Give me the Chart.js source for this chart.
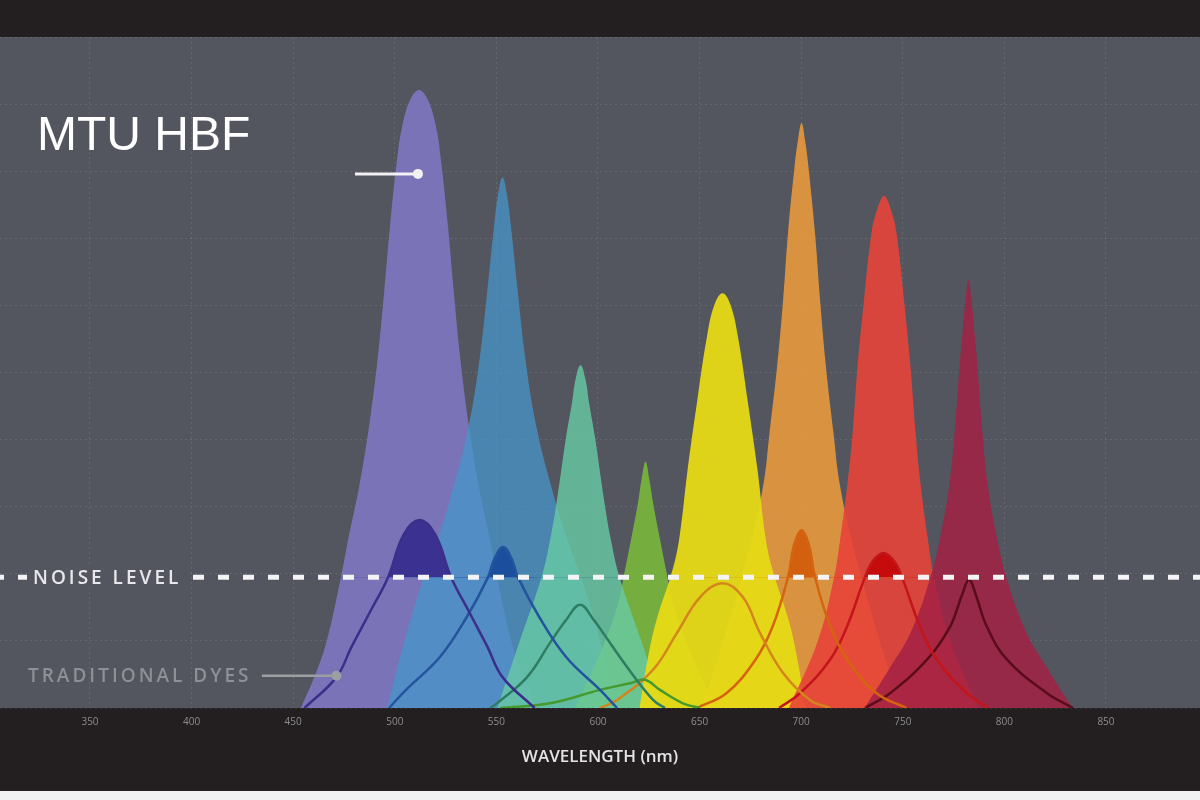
<!DOCTYPE html>
<html>
<head>
<meta charset="utf-8">
<title>MTU HBF vs traditional dyes</title>
<script src="https://cdn.jsdelivr.net/npm/chart.js@4.4.1/dist/chart.umd.min.js"></script>
<style>
  html, body { margin: 0; padding: 0; background: #231f20; }
  #wrap { width: 1200px; height: 800px; }
</style>
</head>
<body>
<div id="wrap"><canvas id="chart" width="1200" height="800"></canvas></div>
<script>
// values: wavelength (nm) and signal (0-100)
const xTicks = [350, 400, 450, 500, 550, 600, 650, 700, 750, 800, 850];
const noiseLevel = 19.5;

// MTU HBF dyes (tall filled peaks)
const purpleNm = [453.8, 461.2, 466.6, 473.5, 477.0, 482.4, 487.3, 491.5, 494.7, 497.6, 501.1, 503.6, 507.5, 511.9, 516.3, 520.3, 522.7, 526.2, 529.1, 532.3, 536.5, 541.4, 546.9, 550.3, 557.2, 562.6, 570.0];
const purpleHbf = [0, 5.2, 10.1, 19.5, 25.0, 32.9, 41.9, 51.9, 61.8, 71.7, 81.7, 86.6, 90.6, 92.1, 90.6, 86.6, 81.7, 71.7, 61.8, 51.9, 41.9, 32.9, 25.0, 19.5, 10.1, 5.2, 0];

const blueNm = [496.2, 504.0, 513.9, 521.0, 528.9, 536.3, 541.7, 545.4, 548.8, 550.8, 553.0, 555.2, 557.2, 560.6, 564.3, 569.7, 577.1, 585.0, 592.1, 602.0, 609.9];
const blueHbf = [0, 9.1, 19.1, 25.0, 32.9, 41.9, 51.9, 61.8, 71.7, 76.5, 79.1, 76.5, 71.7, 61.8, 51.9, 41.9, 32.9, 25.0, 19.1, 9.1, 0];

const tealNm = [550.5, 561.6, 572.2, 576.4, 579.6, 584.3, 587.2, 588.9, 591.4, 593.9, 595.6, 598.5, 603.2, 606.4, 610.6, 621.2, 632.2];
const tealHbf = [0, 10.1, 19.5, 25.0, 30.6, 40.4, 45.5, 48.9, 51.1, 48.9, 45.5, 40.4, 30.6, 25.0, 19.5, 10.1, 0];

const greenNm = [588.9, 596.3, 603.7, 609.9, 613.3, 616.5, 619.7, 621.4, 623.4, 625.3, 627.1, 630.3, 633.5, 636.9, 643.1, 650.5, 657.8];
const greenHbf = [0, 4.9, 10.1, 15.6, 20.6, 25.5, 30.6, 34.0, 36.7, 34.0, 30.6, 25.5, 20.6, 15.6, 10.1, 4.9, 0];

const yellowNm = [620.4, 624.4, 628.8, 636.7, 640.1, 644.1, 648.7, 653.6, 657.3, 661.3, 665.2, 668.9, 673.8, 678.5, 682.4, 685.9, 693.8, 698.2, 702.1];
const yellowHbf = [0, 7.2, 13.1, 20.6, 25.5, 35.5, 45.5, 55.3, 60.1, 61.8, 60.1, 55.3, 45.5, 35.5, 25.5, 20.6, 13.1, 7.2, 0];

const orangeNm = [650.9, 661.8, 670.6, 675.5, 681.5, 684.4, 688.1, 691.1, 693.5, 696.7, 698.4, 700.2, 701.9, 703.6, 706.8, 709.3, 712.2, 715.9, 718.9, 724.8, 729.7, 738.5, 749.4];
const orangeHbf = [0, 10.1, 19.5, 25.0, 33.5, 41.0, 50.8, 60.8, 70.8, 80.6, 84.6, 87.2, 84.6, 80.6, 70.8, 60.8, 50.8, 41.0, 33.5, 25.0, 19.5, 10.1, 0];

const redNm = [694.0, 708.3, 716.2, 719.1, 722.8, 725.3, 727.7, 730.9, 734.6, 737.3, 740.8, 744.2, 746.9, 750.6, 753.8, 756.3, 758.7, 762.4, 765.4, 773.2, 787.5];
const redHbf = [0, 10.1, 19.5, 25.0, 33.5, 41.0, 50.8, 60.8, 70.8, 74.2, 76.3, 74.2, 70.8, 60.8, 50.8, 41.0, 33.5, 25.0, 19.5, 10.1, 0];

const crimsonNm = [731.2, 743.9, 753.8, 763.6, 769.1, 773.0, 775.5, 777.9, 779.4, 780.9, 782.3, 783.8, 785.3, 786.8, 789.2, 791.7, 795.6, 801.0, 810.9, 820.7, 833.5];
const crimsonHbf = [0, 6.1, 11.2, 19.5, 26.5, 33.5, 41.0, 50.8, 55.9, 60.8, 63.8, 60.8, 55.9, 50.8, 41.0, 33.5, 26.5, 19.5, 11.2, 6.1, 0];

// traditional dyes (thin curves)
const tPurpleNm = [455.6, 471.3, 478.7, 487.6, 496.7, 504.3, 512.2, 520.0, 527.7, 536.8, 545.6, 553.0, 568.8];
const tPurple = [0, 4.6, 9.1, 14.2, 19.5, 25.8, 28.0, 25.8, 19.5, 14.2, 9.1, 4.6, 0];

const tBlueNm = [497.2, 505.5, 522.2, 535.5, 545.9, 548.8, 553.3, 557.7, 560.6, 571.0, 584.3, 601.0, 609.4];
const tBlue = [0, 2.7, 7.6, 13.6, 19.5, 22.1, 24.0, 22.1, 19.5, 13.6, 7.6, 2.7, 0];

const tTealNm = [546.9, 550.3, 565.1, 576.4, 584.3, 591.2, 598.0, 602.5, 614.3, 627.1, 633.0];
const tTeal = [0, 0.7, 4.6, 9.7, 13.1, 15.4, 13.1, 11.2, 6.1, 1.2, 0];

const tGreenNm = [551.8, 576.4, 601.0, 615.8, 623.1, 630.5, 641.8, 650.2];
const tGreen = [0, 0.7, 2.7, 3.7, 4.2, 2.7, 0.7, 0];

const tYellowNm = [601.0, 609.4, 627.1, 638.9, 650.2, 661.5, 671.4, 679.7, 691.1, 704.3, 714.2];
const tYellow = [0, 1.2, 5.7, 11.2, 16.5, 18.6, 16.5, 11.2, 5.2, 1.2, 0];

const tOrangeNm = [648.5, 663.2, 677.5, 685.9, 693.5, 696.5, 700.2, 703.8, 706.8, 714.4, 722.8, 737.1, 751.8];
const tOrange = [0, 2.2, 7.2, 12.1, 19.5, 24.3, 26.5, 24.3, 19.5, 12.1, 7.2, 2.2, 0];

const tRedNm = [689.1, 699.4, 714.2, 722.5, 731.4, 735.3, 740.5, 745.7, 749.6, 758.5, 766.8, 781.6, 791.9];
const tRed = [0, 2.2, 7.2, 12.1, 19.5, 21.9, 23.1, 21.9, 19.5, 12.1, 7.2, 2.2, 0];

const tCrimsonNm = [731.4, 743.7, 761.9, 773.2, 779.1, 782.6, 786.0, 791.4, 801.3, 821.0, 833.8];
const tCrimson = [0, 2.2, 7.2, 12.1, 16.8, 19.1, 16.8, 12.1, 7.2, 2.2, 0];

// annotation anchors: [from nm, to nm, signal]
const mtuPointer = [480.4, 511.4, 79.6];
const dyePointer = [434.6, 471.3, 4.8];

const pts = (xs, ys) => xs.map((x, i) => ({ x, y: ys[i] }));

// big filled peak
const area = (label, xs, ys, color, order) => ({
  label,
  data: pts(xs, ys),
  backgroundColor: color,
  borderColor: 'transparent',
  borderWidth: 0,
  fill: 'origin',
  order,
  pointRadius: 0,
  tension: 0.4,
});

// thin line, filled only above noise level
const dye = (label, xs, ys, line, top) => ({
  label,
  data: pts(xs, ys),
  borderColor: line,
  borderWidth: 2.5,
  backgroundColor: top || 'transparent',
  fill: top ? { target: { value: noiseLevel }, above: top, below: 'transparent' } : false,
  order: 0,
  pointRadius: 0,
  tension: 0.4,
});

const backdrop = {
  id: 'backdrop',
  beforeDraw(chart) {
    const { ctx, chartArea: a } = chart;
    ctx.save();
    ctx.fillStyle = '#231f20';
    ctx.fillRect(0, 0, chart.width, chart.height);
    ctx.fillStyle = '#f2f2f2';
    ctx.fillRect(0, 791, chart.width, chart.height - 791);
    ctx.fillStyle = '#53565e';
    ctx.fillRect(a.left, a.top, a.right - a.left, a.bottom - a.top);
    ctx.restore();
  },
};

const notes = {
  id: 'notes',
  afterDraw(chart) {
    const { ctx, scales: { x, y } } = chart;
    ctx.save();

    ctx.fillStyle = '#ffffff';
    ctx.font = '48px "Liberation Sans", Arial, sans-serif';
    ctx.textBaseline = 'alphabetic';
    ctx.fillText('MTU HBF', 37, 150);

    const pointer = (p, color, width) => {
      const py = y.getPixelForValue(p[2]);
      const x1 = x.getPixelForValue(p[1]);
      ctx.strokeStyle = color;
      ctx.lineWidth = width;
      ctx.beginPath();
      ctx.moveTo(x.getPixelForValue(p[0]), py);
      ctx.lineTo(x1, py);
      ctx.stroke();
      ctx.fillStyle = color;
      ctx.beginPath();
      ctx.arc(x1, py, 5, 0, Math.PI * 2);
      ctx.fill();
    };
    pointer(mtuPointer, '#f2f2f4', 3);
    pointer(dyePointer, '#9c9ea2', 2.5);

    // gap in the dashed line for its label
    const ny = y.getPixelForValue(noiseLevel);
    ctx.fillStyle = '#53565e';
    ctx.fillRect(27, ny - 10, 161, 20);

    ctx.letterSpacing = '3px';
    ctx.font = '600 19px "Open Sans", sans-serif';
    ctx.textBaseline = 'middle';
    ctx.fillStyle = '#e8e8ec';
    ctx.fillText('NOISE LEVEL', 33, ny + 1);
    ctx.fillStyle = '#8e9096';
    ctx.fillText('TRADITIONAL DYES', 28, y.getPixelForValue(dyePointer[2]) + 1);
    ctx.restore();
  },
};

new Chart(document.getElementById('chart').getContext('2d'), {
  type: 'line',
  data: {
    datasets: [
      {
        label: 'Noise level',
        data: [{ x: 305.71, y: noiseLevel }, { x: 896.27, y: noiseLevel }],
        borderColor: '#f4f4f6',
        borderWidth: 5,
        borderDash: [11, 14],
        borderDashOffset: 7,
        borderCapStyle: 'butt',
        pointRadius: 0,
        fill: false,
        order: -1,
      },
      dye('Trad 1', tPurpleNm, tPurple, '#3b2f8a', '#3a3190'),
      dye('Trad 2', tBlueNm, tBlue, '#23549e', '#1b4f9e'),
      dye('Trad 3', tTealNm, tTeal, '#2e7d63'),
      dye('Trad 4', tGreenNm, tGreen, '#46992e'),
      dye('Trad 5', tYellowNm, tYellow, '#d4851c'),
      dye('Trad 6', tOrangeNm, tOrange, '#d4640f', '#d2600e'),
      dye('Trad 7', tRedNm, tRed, '#c4161a', '#c50b0b'),
      dye('Trad 8', tCrimsonNm, tCrimson, '#5a0c1a'),
      area('HBF crimson', crimsonNm, crimsonHbf, 'rgba(162,33,68,0.85)', 1),
      area('HBF red', redNm, redHbf, 'rgba(231,68,56,0.9)', 2),
      area('HBF yellow', yellowNm, yellowHbf, 'rgba(231,218,22,0.95)', 3),
      area('HBF orange', orangeNm, orangeHbf, 'rgba(232,153,60,0.9)', 4),
      area('HBF teal', tealNm, tealHbf, 'rgba(104,203,165,0.8)', 5),
      area('HBF green', greenNm, greenHbf, 'rgba(123,188,56,0.85)', 6),
      area('HBF blue', blueNm, blueHbf, 'rgba(71,150,203,0.75)', 7),
      area('HBF purple', purpleNm, purpleHbf, 'rgba(126,119,194,0.9)', 8),
    ],
  },
  options: {
    responsive: false,
    animation: false,
    layout: { padding: { top: 37, bottom: 9, left: 0, right: 0 } },
    plugins: { legend: { display: false }, tooltip: { enabled: false } },
    scales: {
      x: {
        type: 'linear',
        min: 305.71,
        max: 896.27,
        afterBuildTicks: (s) => { s.ticks = xTicks.map((v) => ({ value: v })); },
        afterFit: (s) => { s.height = 83; },
        ticks: { color: '#8d8d8d', font: { family: 'Open Sans', size: 10 }, padding: 8, maxRotation: 0, autoSkip: false },
        grid: { color: 'rgba(255,255,255,0.10)', drawTicks: false },
        border: { display: false, dash: [2, 3] },
        title: {
          display: true,
          text: 'WAVELENGTH (nm)',
          color: '#e4e4e4',
          font: { family: 'Open Sans', size: 17, weight: '600' },
          padding: { top: 0, bottom: 24 },
        },
      },
      y: {
        min: 0,
        max: 100,
        afterFit: (s) => { s.width = 0; },
        ticks: { display: false, stepSize: 10 },
        grid: { color: 'rgba(255,255,255,0.10)', drawTicks: false },
        border: { display: false, dash: [2, 3] },
      },
    },
  },
  plugins: [backdrop, notes],
});
</script>
</body>
</html>
